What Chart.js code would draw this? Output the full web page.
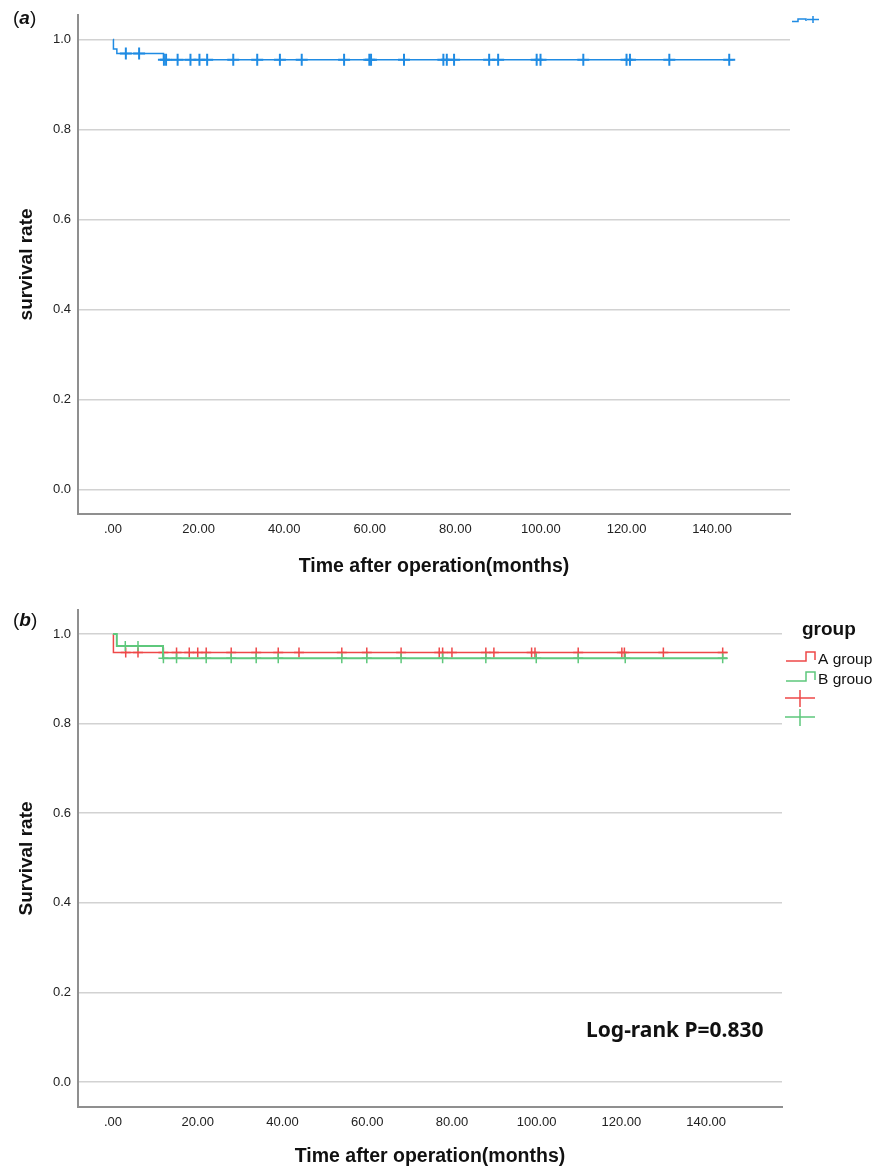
<!DOCTYPE html>
<html>
<head>
<meta charset="utf-8">
<script src="https://cdn.jsdelivr.net/npm/chart.js@4/dist/chart.umd.min.js"></script>
<style>
  body { margin: 0; background: #fff; }
  #wrap { position: relative; width: 890px; height: 1168px; font-family: 'Liberation Sans', Arial, sans-serif; }
  canvas { position: absolute; left: 0; }
  .tag { position: absolute; font-size: 19px; line-height: 1; color: #111; }
  .note { position: absolute; font-family: 'Noto Sans', sans-serif; font-weight: bold; font-size: 21px; line-height: 1; color: #111; }
</style>
</head>
<body>
<div id="wrap">
  <canvas id="chartA" width="890" height="584" style="top:0;width:890px;height:584px"></canvas>
  <canvas id="chartB" width="890" height="584" style="top:584px;width:890px;height:584px"></canvas>
  <div class="tag" style="left:13px;top:8px">(<b><i>a</i></b>)</div>
  <div class="tag" style="left:13px;top:610px">(<b><i>b</i></b>)</div>
  <div class="note" style="left:586px;top:1019px">Log-rank P=0.830</div>
</div>
<script>
Chart.defaults.font.family = "'Liberation Sans', Arial, sans-serif";

const xTicks = [0, 20, 40, 60, 80, 100, 120, 140];
const yTicks = [0, 0.2, 0.4, 0.6, 0.8, 1.0];

// (a) all patients
const stepTimeA = [0, 0.1, 0.9, 11.8, 145];
const stepSurvA = [1.0, 0.979, 0.969, 0.955, 0.955];
const censTimeA = [3.0, 6.1, 11.9, 12.4, 15.1, 18.1, 20.2, 22.0, 28.1, 33.7, 39.0, 44.1, 54.0, 59.9, 60.3, 68.0,
                   77.2, 78.0, 79.7, 87.9, 90.0, 99.0, 99.9, 109.9, 120.0, 120.8, 130.0, 144.0];
const censSurvA = [0.969, 0.969, 0.955, 0.955, 0.955, 0.955, 0.955, 0.955, 0.955, 0.955, 0.955, 0.955, 0.955, 0.955, 0.955, 0.955,
                   0.955, 0.955, 0.955, 0.955, 0.955, 0.955, 0.955, 0.955, 0.955, 0.955, 0.955, 0.955];

// (b) by group
const groupNames = ['A group', 'B grouo'];
const stepTimeRed = [0, 0.1, 145];
const stepSurvRed = [1.0, 0.959, 0.959];
const censTimeRed = [3.0, 5.9, 11.9, 15.0, 18.0, 20.0, 22.0, 27.9, 33.8, 39.0, 43.9, 54.0, 59.9, 68.0, 77.0, 77.8,
                     80.0, 88.0, 89.9, 98.8, 99.6, 109.8, 120.1, 120.7, 129.9, 143.9];
const censSurvRed = [0.959, 0.959, 0.959, 0.959, 0.959, 0.959, 0.959, 0.959, 0.959, 0.959, 0.959, 0.959, 0.959, 0.959, 0.959, 0.959,
                     0.959, 0.959, 0.959, 0.959, 0.959, 0.959, 0.959, 0.959, 0.959, 0.959];
const stepTimeGreen = [0, 0.9, 11.8, 145];
const stepSurvGreen = [1.0, 0.973, 0.946, 0.946];
const censTimeGreen = [2.9, 5.9, 11.9, 15.0, 22.0, 27.9, 33.8, 39.0, 54.0, 59.9, 68.0, 77.8, 88.0, 99.9, 109.8, 120.9, 143.9];
const censSurvGreen = [0.973, 0.973, 0.946, 0.946, 0.946, 0.946, 0.946, 0.946, 0.946, 0.946, 0.946, 0.946, 0.946, 0.946, 0.946, 0.946, 0.946];

const blue = '#1f8be3';
const red = '#ee4848';
const green = '#5ec87c';

function pts(xs, ys) {
    return xs.map((x, i) => ({ x: x, y: ys[i] }));
}

function makeScales(o) {
    return {
        x: {
            type: 'linear',
            min: o.xMin,
            max: o.xMax,
            afterBuildTicks: s => { s.ticks = xTicks.map(v => ({ value: v })); },
            afterFit: s => { s.height = o.xHeight; },
            grid: { display: false, drawTicks: false },
            border: { display: true, color: '#8f8f8f', width: 2 },
            ticks: {
                padding: 8, color: '#222', font: { size: 13 }, maxRotation: 0, autoSkip: false,
                callback: v => v === 0 ? '.00' : v.toFixed(2)
            },
            title: {
                display: true, text: 'Time after operation(months)', color: '#111',
                font: { size: 19.5, weight: 'bold' }, padding: { top: 0, bottom: o.titlePad }
            }
        },
        y: {
            type: 'linear',
            min: o.yMin,
            max: o.yMax,
            afterBuildTicks: s => { s.ticks = yTicks.map(v => ({ value: v })); },
            afterFit: s => { s.width = 78; },
            grid: { color: '#d2d2d2', lineWidth: 1.5, drawTicks: false },
            border: { display: true, color: '#8f8f8f', width: 2 },
            ticks: { padding: 7, color: '#222', font: { size: 13 }, callback: v => v.toFixed(1) },
            title: {
                display: true, text: o.yTitle, color: '#111',
                font: { size: 19, weight: 'bold' }, padding: { top: 15, bottom: 0 }
            }
        }
    };
}

// little legend symbol in the top right corner of (a)
const legendA = {
    id: 'legendA',
    afterDraw(chart) {
        const ctx = chart.ctx;
        ctx.save();
        ctx.strokeStyle = blue;
        ctx.lineWidth = 1.5;
        ctx.beginPath();
        ctx.moveTo(792, 21.5);
        ctx.lineTo(798, 21.5);
        ctx.lineTo(798, 19);
        ctx.lineTo(806, 19);
        ctx.lineTo(806, 21);
        ctx.moveTo(807, 19.5);
        ctx.lineTo(819, 19.5);
        ctx.moveTo(813, 16);
        ctx.lineTo(813, 23);
        ctx.stroke();
        ctx.restore();
    }
};

// group legend on the right of (b)
const legendB = {
    id: 'legendB',
    afterDraw(chart) {
        const ctx = chart.ctx;
        const cols = [red, green];
        ctx.save();
        ctx.fillStyle = '#111';
        ctx.textBaseline = 'middle';
        ctx.font = "bold 19px 'Liberation Sans', Arial, sans-serif";
        ctx.fillText('group', 802, 46);
        ctx.font = "15.5px 'Liberation Sans', Arial, sans-serif";
        ctx.lineWidth = 1.5;
        cols.forEach((c, i) => {
            const y = 77 + i * 20;
            ctx.strokeStyle = c;
            ctx.beginPath();
            ctx.moveTo(786, y);
            ctx.lineTo(806, y);
            ctx.lineTo(806, y - 9);
            ctx.lineTo(815, y - 9);
            ctx.lineTo(815, y - 1);
            ctx.stroke();
            ctx.fillText(groupNames[i], 818, y - 1);
        });
        cols.forEach((c, i) => {
            const y = 114 + i * 19;
            ctx.strokeStyle = c;
            ctx.beginPath();
            ctx.moveTo(785, y);
            ctx.lineTo(815, y);
            ctx.moveTo(800, y - 8);
            ctx.lineTo(800, y + 9);
            ctx.stroke();
        });
        ctx.restore();
    }
};

const common = {
    responsive: false,
    animation: false,
    devicePixelRatio: 1,
    plugins: { legend: { display: false }, tooltip: { enabled: false } }
};

new Chart(document.getElementById('chartA'), {
    type: 'scatter',
    data: {
        datasets: [
            { data: pts(stepTimeA, stepSurvA), showLine: true, stepped: true, borderColor: blue, borderWidth: 1.5, pointRadius: 0 },
            { data: pts(censTimeA, censSurvA), showLine: false, pointStyle: 'cross', pointRadius: 6, borderColor: blue, borderWidth: 2 }
        ]
    },
    options: Object.assign({}, common, {
        layout: { padding: { top: 9, right: 100, left: 0, bottom: 0 } },
        scales: makeScales({ xMin: -8.18, xMax: 158.2, yMin: -0.055, yMax: 1.055, xHeight: 70, titlePad: 5.5, yTitle: 'survival rate' })
    }),
    plugins: [legendA]
});

new Chart(document.getElementById('chartB'), {
    type: 'scatter',
    data: {
        datasets: [
            { data: pts(stepTimeGreen, stepSurvGreen), showLine: true, stepped: true, borderColor: green, borderWidth: 2, pointRadius: 0 },
            { data: pts(stepTimeRed, stepSurvRed), showLine: true, stepped: true, borderColor: red, borderWidth: 1.5, pointRadius: 0 },
            { data: pts(censTimeGreen, censSurvGreen), showLine: false, pointStyle: 'cross', pointRadius: 5, borderColor: green, borderWidth: 1.5 },
            { data: pts(censTimeRed, censSurvRed), showLine: false, pointStyle: 'cross', pointRadius: 5, borderColor: red, borderWidth: 1.5 }
        ]
    },
    options: Object.assign({}, common, {
        layout: { padding: { top: 26, right: 108, left: 0, bottom: 0 } },
        scales: makeScales({ xMin: -8.26, xMax: 157.9, yMin: -0.0558, yMax: 1.0536, xHeight: 61, titlePad: 0, yTitle: 'Survival rate' })
    }),
    plugins: [legendB]
});
</script>
</body>
</html>
